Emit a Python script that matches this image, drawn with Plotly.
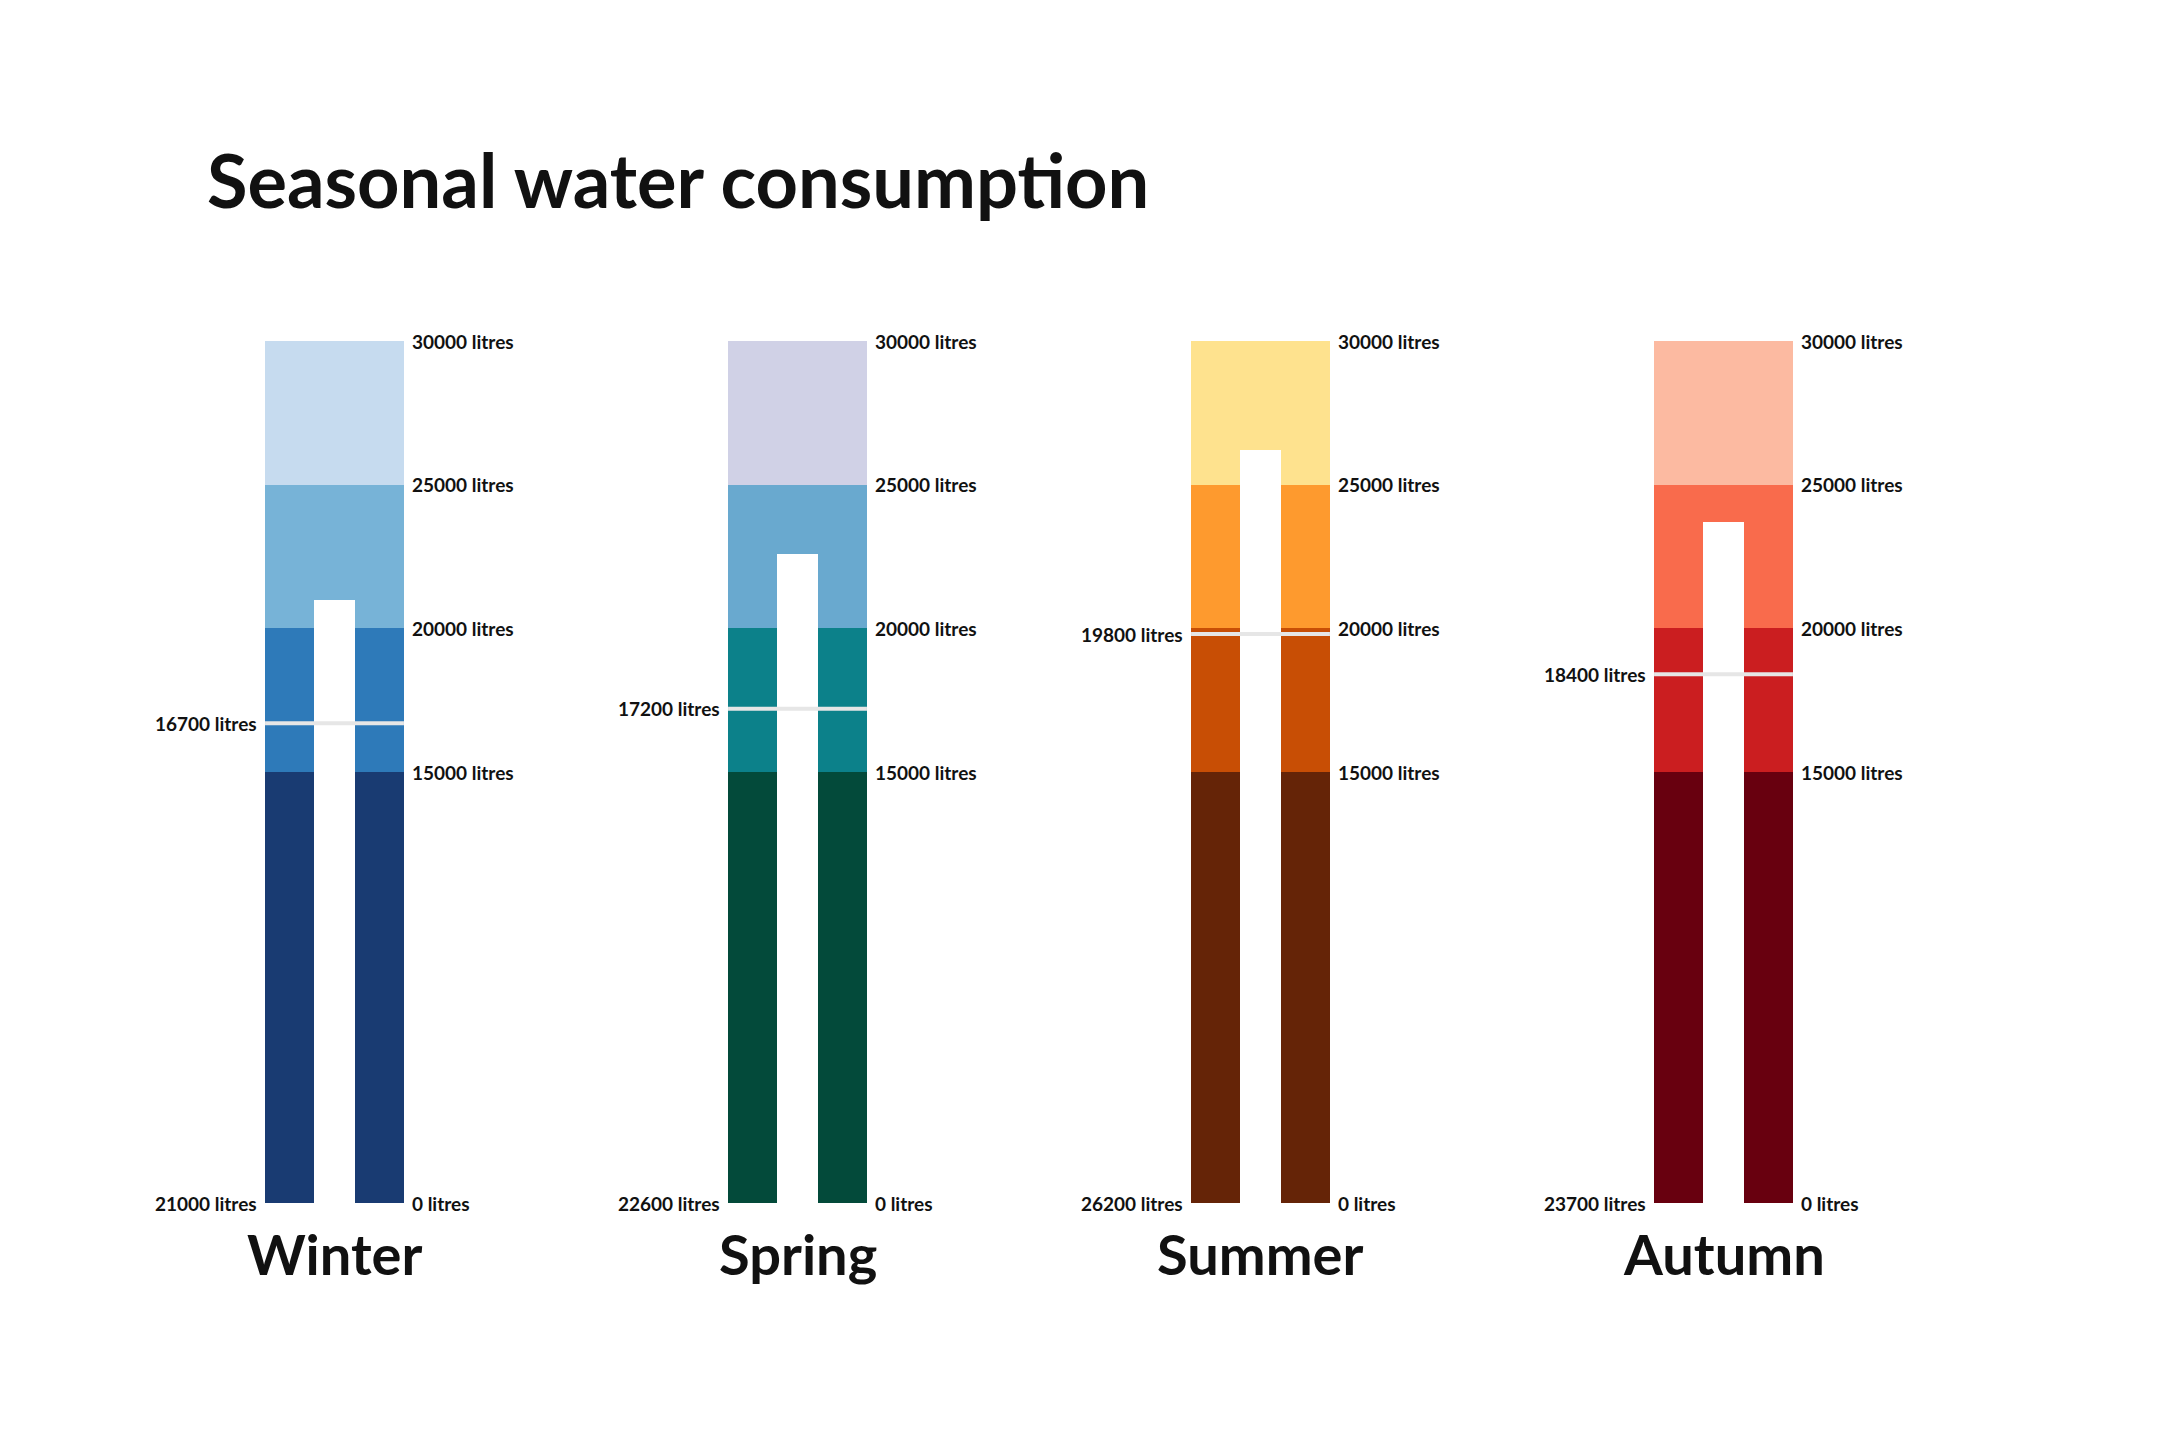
import plotly.graph_objects as go

seasons = ["Winter", "Spring", "Summer", "Autumn"]
consumption = [21000, 22600, 26200, 23700]
average = [16700, 17200, 19800, 18400]
band_edges = [0, 15000, 20000, 25000, 30000]

# band colours per season, from bottom band to top band
band_colors = {
    "Winter": ["#193b72", "#2e7ab9", "#77b3d7", "#c6dbef"],
    "Spring": ["#034a3a", "#0c818a", "#69a9cf", "#d0d1e6"],
    "Summer": ["#652407", "#c84e05", "#fe9a2e", "#fee28e"],
    "Autumn": ["#68000f", "#cb1e20", "#f96b4c", "#fcbaa1"],
}

FONT = "Lato"
pos = list(range(len(seasons)))
bar_w = 0.3
inner_w = 0.09

fig = go.Figure()

# coloured bands
for i in range(len(band_edges) - 1):
    lo, hi = band_edges[i], band_edges[i + 1]
    fig.add_trace(go.Bar(
        x=pos,
        y=[hi - lo] * len(seasons),
        base=[lo] * len(seasons),
        width=bar_w,
        marker=dict(color=[band_colors[s][i] for s in seasons], line_width=0),
        hoverinfo="skip",
        showlegend=False,
    ))

# consumption (white inner bar)
fig.add_trace(go.Bar(
    x=pos,
    y=consumption,
    width=inner_w,
    marker=dict(color="white", line_width=0),
    showlegend=False,
    hovertemplate="%{y} litres<extra></extra>",
))

# average marker lines
xs, ys = [], []
for p, a in zip(pos, average):
    xs += [p - bar_w / 2, p + bar_w / 2, None]
    ys += [a, a, None]
fig.add_trace(go.Scatter(
    x=xs, y=ys, mode="lines",
    line=dict(color="#e6e6e6", width=4),
    hoverinfo="skip", showlegend=False,
))

label_font = dict(family=FONT, size=19, color="#111111", weight="bold")
annotations = []
for p, s, c, a in zip(pos, seasons, consumption, average):
    for e in band_edges:
        annotations.append(dict(
            x=p + bar_w / 2, y=e, xref="x", yref="y",
            text=f"{e} litres", showarrow=False,
            xanchor="left", yanchor="middle", xshift=6,
            font=label_font,
        ))
    annotations.append(dict(
        x=p - bar_w / 2, y=0, xref="x", yref="y",
        text=f"{c} litres", showarrow=False,
        xanchor="right", yanchor="middle", xshift=-6,
        font=label_font,
    ))
    annotations.append(dict(
        x=p - bar_w / 2, y=a, xref="x", yref="y",
        text=f"{a} litres", showarrow=False,
        xanchor="right", yanchor="middle", xshift=-6,
        font=label_font,
    ))
    annotations.append(dict(
        x=p, y=0, xref="x", yref="paper",
        text=s, showarrow=False,
        xanchor="center", yanchor="middle", yshift=-50,
        font=dict(family=FONT, size=56, color="#111111", weight="bold"),
    ))

fig.update_layout(
    width=2160,
    height=1440,
    barmode="overlay",
    bargap=0,
    paper_bgcolor="white",
    plot_bgcolor="white",
    margin=dict(l=95, r=213, t=333, b=245),
    title=dict(
        text="Seasonal water consumption",
        x=199 / 2160, xref="container", xanchor="left",
        y=1 - 174 / 1440, yref="container", yanchor="middle",
        font=dict(family=FONT, size=74, color="#111111", weight="bold"),
    ),
    xaxis=dict(range=[-0.5, 3.5], visible=False, fixedrange=True),
    yaxis=dict(range=[0, 30000], visible=False, fixedrange=True),
    annotations=annotations,
)

fig.write_html("out.html")
